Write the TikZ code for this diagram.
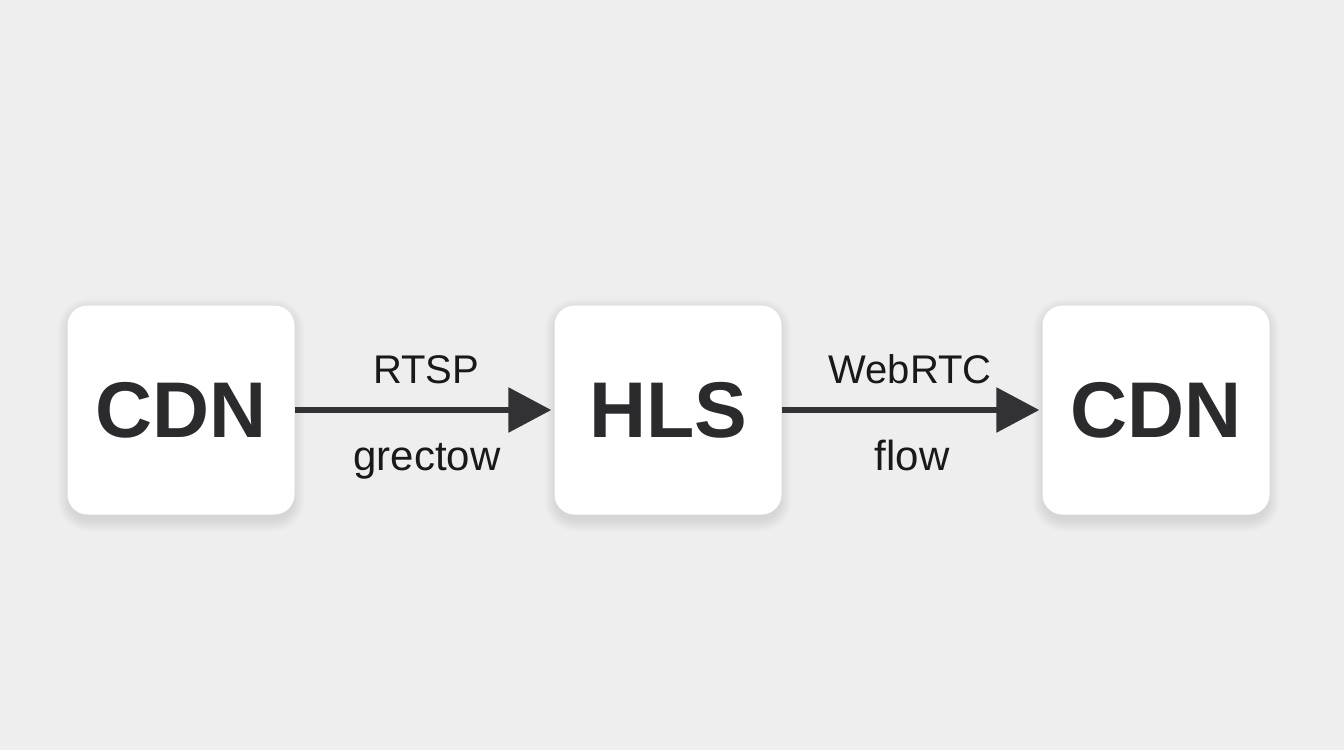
\documentclass[tikz,border=0pt]{standalone}
\usepackage{fontspec}
\setmainfont{Liberation Sans}
\usetikzlibrary{arrows.meta,calc}
\definecolor{bg}{RGB}{238,238,238}
\definecolor{ink}{RGB}{43,43,46}
\definecolor{arr}{RGB}{50,50,53}
\pgfdeclarelayer{bglayer}
\pgfdeclarelayer{shlayer}
\pgfsetlayers{bglayer,shlayer,main}
\tikzset{
  box/.style={rectangle, rounded corners=20pt, fill=white, minimum width=227pt, minimum height=209pt,
    inner sep=0pt, text=ink, font=\fontsize{79}{79}\selectfont\bfseries},
  flow/.style={draw=arr, line width=6pt, -{Triangle[length=43pt,width=44pt]}, shorten >=3pt},
  lbl/.style={anchor=base, inner sep=0pt, text=black!90, font=\fontsize{40}{40}\selectfont},
  lblb/.style={anchor=base, inner sep=0pt, text=black!90, font=\fontsize{42}{42}\selectfont}
}
\newcommand{\softshadow}[1]{%
  \foreach \i in {1,...,12}{%
    \fill[black, opacity=0.008, rounded corners=20pt+\i pt]
      ($(#1.north west)+(-\i+2,-\i+5)$) rectangle ($(#1.south east)+(\i-2,\i+5)$);
  }%
}
\begin{document}
\begin{tikzpicture}[x=1pt,y=-1pt]
\begin{pgfonlayer}{bglayer}
\fill[bg] (0,0) rectangle (1344,750);
\end{pgfonlayer}
\useasboundingbox (0,0) rectangle (1344,750);
\node[box] (cdn1) at (181,410) {CDN};
\node[box] (hls) at (668,410) {HLS};
\node[box] (cdn2) at (1156,410) {CDN};
\begin{pgfonlayer}{shlayer}
\softshadow{cdn1}
\softshadow{hls}
\softshadow{cdn2}
\end{pgfonlayer}
\draw[flow] (cdn1.east) -- (hls.west);
\draw[flow] (hls.east) -- (cdn2.west);
\node[lbl] (l1) at (426,383) {RTSP};
\node[lblb] (l2) at (427,470) {grectow};
\node[lbl] (l3) at (910,383) {WebRTC};
\node[lblb] (l4) at (912,470) {flow};
\end{tikzpicture}
\end{document}
